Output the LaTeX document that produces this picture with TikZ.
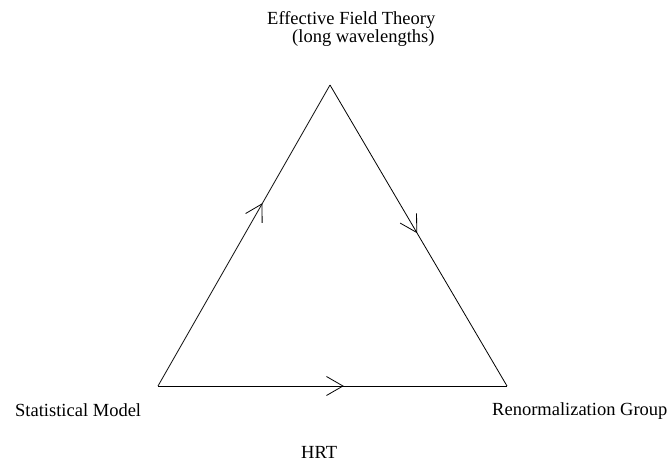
\documentclass[tikz,border=0pt]{standalone}
\usepackage{fontspec}
\setmainfont{Liberation Serif}
\usetikzlibrary{decorations.markings}
\begin{document}
\begin{tikzpicture}[x=1pt,y=1pt,
  edge/.style={line width=0.8pt},
  midarrow/.style={postaction={decorate},decoration={markings,
    mark=at position #1 with {\draw[line width=0.8pt] (-16.5,9.5) -- (0,0) -- (-16.5,-9.5);}}},
  lbl/.style={inner sep=0pt,anchor=base west,font=\fontsize{18.5}{22}\selectfont}]
\useasboundingbox (0,0) rectangle (669,461);
\coordinate (sm) at (158,75);
\coordinate (rg) at (507,75);
\coordinate (eft) at (330,376);
\draw[edge,midarrow=0.605] (sm) -- (eft);
\draw[edge,midarrow=0.49] (eft) -- (rg);
\draw[edge,midarrow=0.53] (sm) -- (rg);
\node[lbl] (teft) at (267,436) {Effective Field Theory};
\node[lbl] (tlong) at (292,418) {(long wavelengths)};
\node[lbl] (tsm) at (15,45) {Statistical Model};
\node[lbl] (trg) at (492,46) {Renormalization Group};
\node[lbl] (thrt) at (301,3) {HRT};
\end{tikzpicture}
\end{document}
